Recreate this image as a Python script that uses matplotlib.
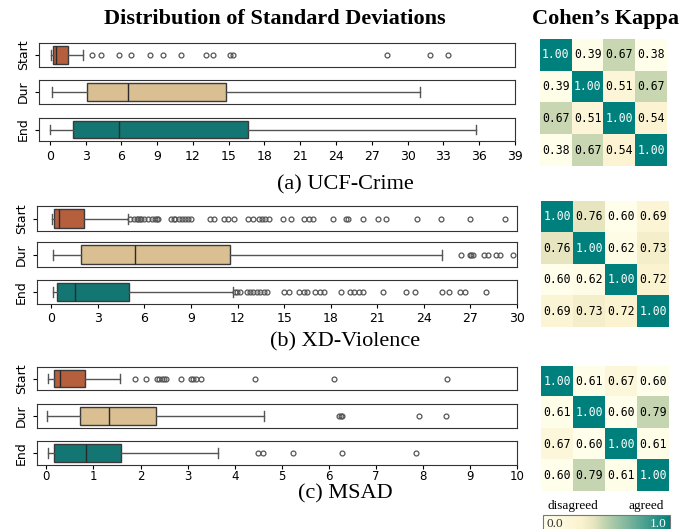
import numpy as np
import matplotlib
matplotlib.use('Agg')
import matplotlib.pyplot as plt
from matplotlib.colors import LinearSegmentedColormap, Normalize
from matplotlib.cm import ScalarMappable

W, H = 694, 529

# box summaries: [whislo, q1, median, q3, whishi]
ucf_start = [0.08, 0.30, 0.55, 1.50, 2.80]
ucf_dur = [0.22, 3.13, 6.60, 14.77, 31.0]
ucf_end = [0.05, 1.95, 5.82, 16.60, 35.7]
ucf_start_out = [3.58, 4.33, 5.8, 6.85, 8.4, 9.5, 11.0, 13.1, 13.7, 15.1, 15.4, 28.3, 31.9, 33.4]
ucf_dur_out = []
ucf_end_out = []

xd_start = [0.04, 0.19, 0.47, 2.08, 4.92]
xd_dur = [0.10, 1.93, 5.41, 11.49, 25.17]
xd_end = [0.09, 0.37, 1.50, 5.00, 11.70]
xd_start_out = [5.1, 5.3, 5.5, 5.6, 5.7, 5.8, 6.0, 6.2, 6.5, 6.7, 6.8, 6.9,
                7.7, 7.9, 8.0, 8.2, 8.4, 8.6, 8.8, 9.0, 10.2, 10.45, 11.1, 11.4, 11.75,
                12.7, 12.97, 13.36, 13.57, 13.79, 14.0, 14.93, 15.44, 16.26, 16.58, 16.84,
                18.13, 18.99, 19.1, 20.06, 21.05, 21.59, 23.54, 25.1, 26.95, 29.25]
xd_dur_out = [26.37, 26.95, 27.05, 27.17, 27.86, 28.11, 28.65, 28.93, 29.72]
xd_end_out = [11.84, 11.97, 12.18, 12.6, 12.8, 13.0, 13.25, 13.47, 13.68, 13.9,
              14.97, 15.29, 15.94, 16.26, 16.47, 17.0, 17.3, 17.55, 18.67,
              19.27, 19.52, 19.8, 20.06, 21.35, 22.85, 23.41, 25.17, 25.65,
              26.35, 26.63, 28.0]

msad_start = [0.035, 0.155, 0.28, 0.81, 1.57]
msad_dur = [0.01, 0.71, 1.33, 2.33, 4.63]
msad_end = [0.03, 0.155, 0.85, 1.58, 3.65]
msad_start_out = [1.89, 2.11, 2.35, 2.40, 2.45, 2.49, 2.54, 2.85, 3.07, 3.12, 3.17, 3.29, 4.44, 6.12, 8.51]
msad_dur_out = [6.21, 6.25, 6.29, 7.91, 8.49]
msad_end_out = [4.49, 4.61, 5.23, 6.28, 7.86]

ucf_kappa = [[1.00, 0.39, 0.67, 0.38],
             [0.39, 1.00, 0.51, 0.67],
             [0.67, 0.51, 1.00, 0.54],
             [0.38, 0.67, 0.54, 1.00]]
xd_kappa = [[1.00, 0.76, 0.60, 0.69],
            [0.76, 1.00, 0.62, 0.73],
            [0.60, 0.62, 1.00, 0.72],
            [0.69, 0.73, 0.72, 1.00]]
msad_kappa = [[1.00, 0.61, 0.67, 0.60],
              [0.61, 1.00, 0.60, 0.79],
              [0.67, 0.60, 1.00, 0.61],
              [0.60, 0.79, 0.61, 1.00]]

row_names = ['Start', 'Dur', 'End']
box_colors = ['#B65F3D', '#D9BF91', '#137673']
subtitles = ['(a) UCF-Crime', '(b) XD-Violence', '(c) MSAD']

cmap = LinearSegmentedColormap.from_list(
    'agree', [(0.0, '#FFFEEA'), (0.3, '#FBF2CF'), (0.4, '#E6E5C0'),
              (0.48, '#C4D4B0'), (1.0, '#00807C')])


def px(l, t, r, b):
    return [l / W, 1 - b / H, (r - l) / W, (b - t) / H]


def draw_box(ax, summ, outliers, color):
    st = dict(whislo=summ[0], q1=summ[1], med=summ[2], q3=summ[3],
              whishi=summ[4], fliers=outliers)
    ax.bxp([st], positions=[0], widths=0.78, orientation='horizontal',
           patch_artist=True, capwidths=0.4, manage_ticks=False,
           boxprops=dict(facecolor=color, edgecolor='#3a3a3a', linewidth=1),
           medianprops=dict(color='#2a2a2a', linewidth=1),
           whiskerprops=dict(color='#555555', linewidth=1),
           capprops=dict(color='#555555', linewidth=1),
           flierprops=dict(marker='o', markerfacecolor='none',
                           markeredgecolor='#555555', markersize=3.5,
                           markeredgewidth=0.9))
    ax.set_ylim(-0.5, 0.5)


fig = plt.figure(figsize=(W / 100, H / 100), dpi=100)

panels = [
    ([ucf_start, ucf_dur, ucf_end], [ucf_start_out, ucf_dur_out, ucf_end_out],
     ucf_kappa, (-0.9, 39), 3, 39, 39, 515,
     [(43, 67), (80, 104), (118, 141)], (540, 39, 667, 166), 185, 3.5, 9),
    ([xd_start, xd_dur, xd_end], [xd_start_out, xd_dur_out, xd_end_out],
     xd_kappa, (-0.92, 30), 3, 30, 37, 517,
     [(206, 231), (242, 267), (280, 304)], (541, 201, 669, 327), 342, 2.5, 9),
    ([msad_start, msad_dur, msad_end], [msad_start_out, msad_dur_out, msad_end_out],
     msad_kappa, (-0.2, 10), 1, 10, 37, 517,
     [(367, 390), (404, 428), (441, 465)], (541, 366, 669, 491), 494, 0.8, 8.5),
]

for k, (summs, outs, kappa, xlim, step, xmax, left, right, rows, hm, sub_y,
        pad, lsize) in enumerate(panels):
    for i in range(3):
        top, bot = rows[i]
        ax = fig.add_axes(px(left, top, right, bot))
        draw_box(ax, summs[i], outs[i], box_colors[i])
        ax.set_xlim(*xlim)
        ax.set_yticks([0])
        ax.set_yticklabels([row_names[i]], rotation=90, va='center', fontsize=9)
        ax.tick_params(axis='y', length=3)
        for s in ax.spines.values():
            s.set_color('#333333')
        if i < 2:
            ax.set_xticks([])
        else:
            ax.set_xticks(np.arange(0, xmax + 0.1, step))
            ax.tick_params(axis='x', labelsize=lsize, length=3, pad=pad)
    fig.text(345 / W, 1 - sub_y / H, subtitles[k], ha='center', va='center',
             fontsize=16, family='Liberation Serif')

    # Cohen's kappa heatmap, scaled per dataset
    kap = np.array(kappa)
    hax = fig.add_axes(px(*hm))
    norm = Normalize(vmin=kap.min(), vmax=1.0)
    hax.imshow(kap, cmap=cmap, norm=norm, aspect='auto')
    for r in range(4):
        for c in range(4):
            v = kap[r, c]
            hax.text(c, r, f'{v:.2f}', ha='center', va='center',
                     fontsize=8.3, family='DejaVu Sans Mono',
                     color='white' if v > 0.95 else 'black')
    hax.set_axis_off()

fig.text(275 / W, 1 - 19 / H, 'Distribution of Standard Deviations', ha='center',
         va='center', fontsize=16, fontweight='bold', family='Liberation Serif')
fig.text(605 / W, 1 - 19 / H, 'Cohen\u2019s Kappa', ha='center', va='center',
         fontsize=16, fontweight='bold', family='Liberation Serif')

# shared colour bar
cax = fig.add_axes(px(543, 515, 670, 535))
cb = fig.colorbar(ScalarMappable(norm=Normalize(0, 1), cmap=cmap), cax=cax,
                  orientation='horizontal')
cb.set_ticks([])
cb.outline.set_edgecolor('#777777')
cax.text(0.03, 0.55, '0.0', transform=cax.transAxes, ha='left', va='center',
         fontsize=9.5, family='Liberation Serif', color='#333333')
cax.text(0.97, 0.55, '1.0', transform=cax.transAxes, ha='right', va='center',
         fontsize=9.5, family='Liberation Serif', color='white')
fig.text(548 / W, 1 - 506 / H, 'disagreed', ha='left', va='center',
         fontsize=9.5, family='Liberation Serif')
fig.text(664 / W, 1 - 506 / H, 'agreed', ha='right', va='center',
         fontsize=9.5, family='Liberation Serif')

fig.savefig('out.png', dpi=100)
